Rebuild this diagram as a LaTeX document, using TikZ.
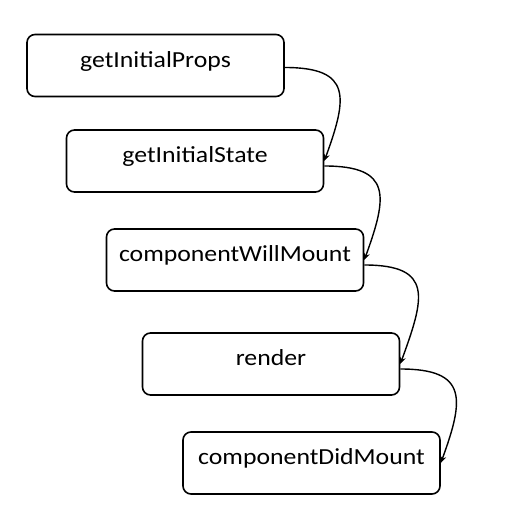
\documentclass[tikz,border=0pt]{standalone}
\usepackage{fontspec}
\setmainfont{Carlito}[FakeStretch=1.12]
\usetikzlibrary{arrows.meta}
\begin{document}
\begin{tikzpicture}[x=1pt,y=1pt,
  stepbox/.style={draw,line width=1.6pt,rounded corners=8pt,minimum width=257pt,
    minimum height=62pt,inner sep=0pt,text height=16pt,text depth=12pt,
    font=\fontsize{23}{27}\selectfont},
  flow/.style={line width=1.4pt,-{Stealth[length=7pt,width=6pt]}}]
\useasboundingbox (0,0) rectangle (523,508);
% lifecycle steps
\node[stepbox] (props) at (155.5,442.5){getInitialProps};
\node[stepbox] (state) at (195,347){getInitialState};
\node[stepbox] (willmount) at (235,248){componentWillMount};
\node[stepbox] (render) at (271,144){render};
\node[stepbox] (didmount) at (311.5,45){componentDidMount};
% arrows
\draw[flow] ([yshift=-2pt]props.east) to[out=0,in=70,looseness=1.7] (state.east);
\draw[flow] ([yshift=-5pt]state.east) to[out=0,in=70,looseness=1.7] (willmount.east);
\draw[flow] ([yshift=-5pt]willmount.east) to[out=0,in=70,looseness=1.7] (render.east);
\draw[flow] ([yshift=-5pt]render.east) to[out=0,in=70,looseness=1.7] (didmount.east);
\end{tikzpicture}
\end{document}
